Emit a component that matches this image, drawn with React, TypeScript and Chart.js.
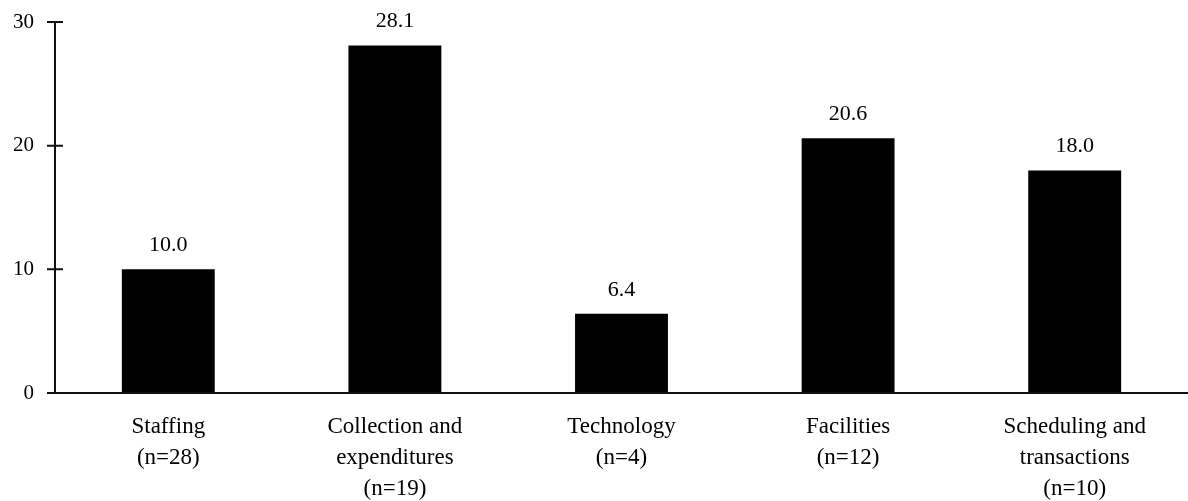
import React, { useEffect, useRef } from "react";
import { Chart, registerables } from "chart.js";

Chart.register(...registerables);

const categories: string[][] = [
  ["Staffing", "(n=28)"],
  ["Collection and", "expenditures", "(n=19)"],
  ["Technology", "(n=4)"],
  ["Facilities", "(n=12)"],
  ["Scheduling and", "transactions", "(n=10)"],
];
const values: number[] = [10.0, 28.1, 6.4, 20.6, 18.0];
const yTicks: number[] = [0, 10, 20, 30];

const FONT = "'Liberation Serif', 'Times New Roman', serif";

const axesPlugin = {
  id: "axesPlugin",
  afterDraw(chart: any) {
    const ctx = chart.ctx;
    const ys = chart.scales.y;
    const left = chart.chartArea.left;
    const right = chart.chartArea.right;
    const y0 = ys.getPixelForValue(0);
    const yTop = ys.getPixelForValue(30);
    ctx.save();
    ctx.strokeStyle = "#111";
    ctx.lineWidth = 2;
    ctx.beginPath();
    ctx.moveTo(left, yTop);
    ctx.lineTo(left, y0);
    ctx.moveTo(left - 8, y0);
    ctx.lineTo(right, y0);
    ys.ticks.forEach((t: any) => {
      const py = ys.getPixelForValue(t.value);
      ctx.moveTo(left - 8, py);
      ctx.lineTo(left + 8, py);
    });
    ctx.stroke();

    ctx.fillStyle = "#000";
    ctx.font = `22px ${FONT}`;
    ctx.textAlign = "center";
    ctx.textBaseline = "middle";
    const meta = chart.getDatasetMeta(0);
    meta.data.forEach((bar: any, i: number) => {
      ctx.fillText(values[i].toFixed(1), bar.x, bar.y - 24);
    });
    ctx.restore();
  },
};

export default function App() {
  const ref = useRef<HTMLCanvasElement | null>(null);
  useEffect(() => {
    if (!ref.current) return;
    const chart = new Chart(ref.current, {
      type: "bar",
      data: {
        labels: categories,
        datasets: [
          {
            data: values,
            backgroundColor: "#000",
            borderWidth: 0,
            barPercentage: 0.41,
            categoryPercentage: 1,
          },
        ],
      },
      options: {
        responsive: false,
        animation: false,
        layout: { padding: { top: 22, left: 0, right: 0, bottom: 0 } },
        plugins: {
          legend: { display: false },
          tooltip: { enabled: false },
        },
        scales: {
          x: {
            grid: { display: false, drawTicks: false },
            border: { display: false },
            ticks: {
              color: "#000",
              padding: 18,
              maxRotation: 0,
              autoSkip: false,
              font: { family: FONT, size: 23, lineHeight: 1.35 },
            },
            afterFit: (s: any) => {
              s.height = 108;
              s.paddingLeft = 0;
              s.paddingRight = 0;
            },
          },
          y: {
            min: 0,
            max: 30,
            afterBuildTicks: (s: any) => {
              s.ticks = yTicks.map((v) => ({ value: v }));
            },
            grid: { display: false, drawTicks: false },
            border: { display: false },
            ticks: {
              color: "#000",
              padding: 21,
              font: { family: FONT, size: 21 },
            },
            afterFit: (s: any) => {
              s.width = 55;
              s.paddingTop = 0;
              s.paddingBottom = 0;
            },
          },
        },
      },
      plugins: [axesPlugin],
    });
    return () => chart.destroy();
  }, []);
  return (
    <div style={{ position: "fixed", left: 0, top: 0, width: 1188, height: 501, background: "#fff" }}>
      <canvas ref={ref} width={1188} height={501} style={{ display: "block" }} />
    </div>
  );
}
